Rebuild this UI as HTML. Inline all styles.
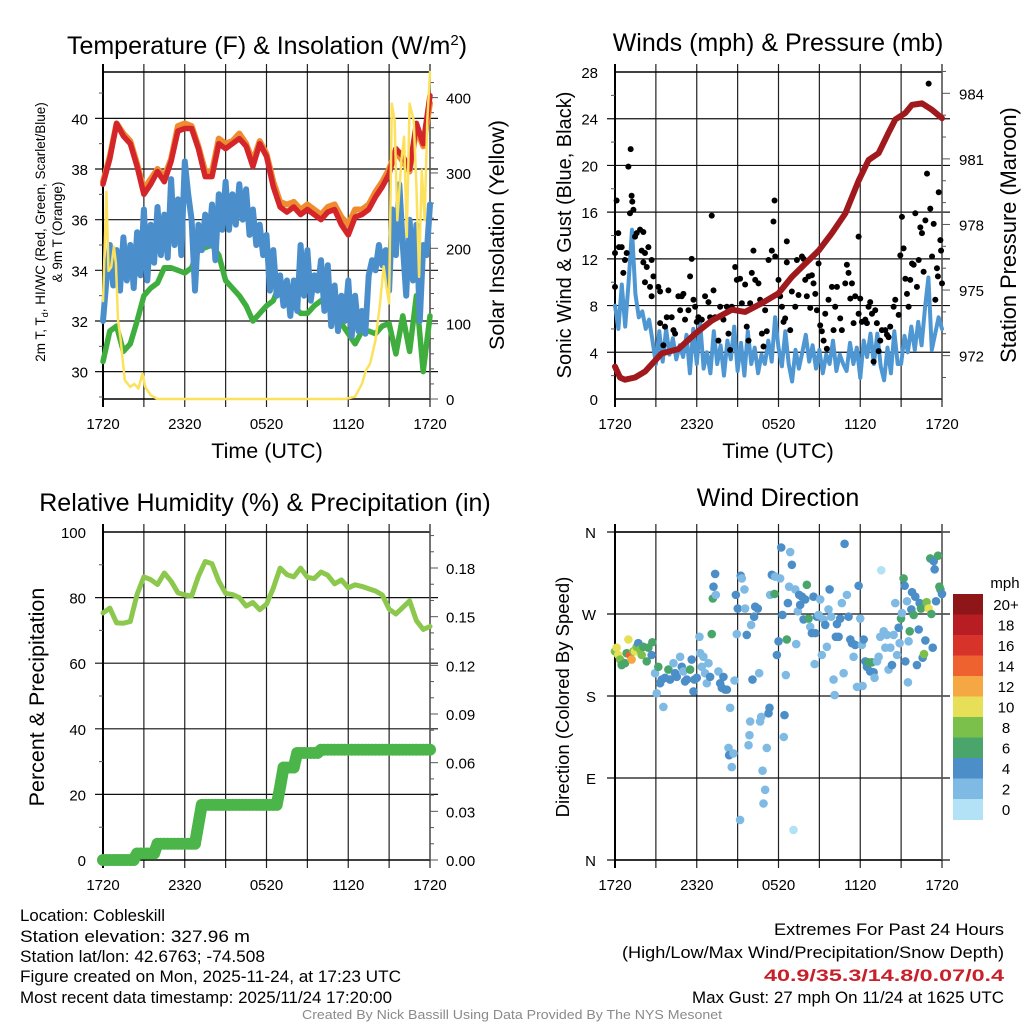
<!DOCTYPE html>
<html><head><meta charset="utf-8"><style>
html,body{margin:0;padding:0;background:#fff;}
svg{display:block;font-family:"Liberation Sans",sans-serif;}
</style></head><body>
<svg id="fig" width="1024" height="1024" viewBox="0 0 1024 1024" xmlns="http://www.w3.org/2000/svg">
<rect width="1024" height="1024" fill="#fff"/>
<g id="g1"></g>
<g id="g2"></g>
<g id="g3"></g>
<g id="g4"></g>
<g id="foot">
<text x="20" y="921" font-size="17" textLength="145" lengthAdjust="spacingAndGlyphs">Location: Cobleskill</text>
<text x="20" y="942" font-size="17" textLength="230" lengthAdjust="spacingAndGlyphs">Station elevation: 327.96 m</text>
<text x="20" y="962" font-size="17" textLength="245" lengthAdjust="spacingAndGlyphs">Station lat/lon: 42.6763; -74.508</text>
<text x="20" y="982" font-size="17" textLength="381" lengthAdjust="spacingAndGlyphs">Figure created on Mon, 2025-11-24, at 17:23 UTC</text>
<text x="20" y="1003" font-size="17" textLength="372" lengthAdjust="spacingAndGlyphs">Most recent data timestamp: 2025/11/24 17:20:00</text>
<text x="1004" y="935" font-size="17" text-anchor="end" textLength="230" lengthAdjust="spacingAndGlyphs">Extremes For Past 24 Hours</text>
<text x="1004" y="958" font-size="17" text-anchor="end" textLength="382" lengthAdjust="spacingAndGlyphs">(High/Low/Max Wind/Precipitation/Snow Depth)</text>
<text x="1004" y="981" font-size="17" font-weight="bold" fill="#c8202a" text-anchor="end" textLength="240" lengthAdjust="spacingAndGlyphs">40.9/35.3/14.8/0.07/0.4</text>
<text x="1004" y="1003" font-size="17" text-anchor="end" textLength="312" lengthAdjust="spacingAndGlyphs">Max Gust: 27 mph On 11/24 at 1625 UTC</text>
<text x="512" y="1019" font-size="13" fill="#8a8a8a" text-anchor="middle" textLength="420" lengthAdjust="spacingAndGlyphs">Created By Nick Bassill Using Data Provided By The NYS Mesonet</text>
</g>
</svg>
<script>
// ---------- DATA ----------
const timeLabels = ["1720","2320","0520","1120","1720"];
const tempT = [37.4,38.4,39.8,39.3,39.0,38.1,37.0,37.4,37.9,37.5,38.3,39.5,39.6,39.6,38.8,37.7,37.7,39.0,38.8,39.0,39.2,38.9,38.1,39.0,38.5,37.3,36.5,36.3,36.5,36.2,36.4,36.2,36.0,36.3,36.4,35.8,35.4,36.1,36.2,36.4,36.9,37.3,37.8,38.8,38.5,38.0,39.8,39.0,40.9];
const temp9m = [37.5,38.5,39.8,39.4,39.1,38.2,37.2,37.6,38.0,37.7,38.4,39.7,39.8,39.7,38.9,37.9,37.9,39.2,39.0,39.1,39.4,39.0,38.3,39.1,38.6,37.5,36.7,36.6,36.7,36.4,36.6,36.4,36.2,36.5,36.6,36.1,35.8,36.4,36.4,36.6,37.1,37.5,38.0,38.7,38.3,37.9,39.6,38.9,40.6];
const dewT = [30.4,31.6,31.8,30.8,31.1,32.0,33.0,33.3,33.5,34.1,34.1,34.0,33.9,34.1,34.8,34.9,35.0,34.6,33.6,33.3,33.0,32.6,32.0,32.3,32.6,32.8,33.5,33.1,32.6,32.3,32.3,32.6,32.8,32.7,32.4,31.9,31.5,31.1,31.6,31.6,31.5,31.8,31.9,30.7,32.2,30.8,33.0,30.0,32.2];
const windChill = [32.0,33.6,35.0,33.4, 34.8,33.2,35.3,33.6, 35.0,33.3,35.5,33.8, 36.4,33.6,35.8,34.3, 36.5,34.6,36.2,34.5, 37.6,35.0,36.8,34.6, 38.3,37.0,36.0,33.2, 35.8,34.8,36.2,35.0, 36.6,34.4,37.0,35.6, 37.5,35.6,37.0,35.8, 37.4,36.0,37.2,35.4, 36.4,35.0,35.8,34.6, 35.4,33.2,34.8,33.0, 33.8,32.6,33.6,32.2, 33.6,32.4,35.0,33.0, 34.8,32.8,33.8,33.2, 34.4,32.4,34.2,31.8, 33.4,31.6,33.0,32.0, 33.6,31.4,33.0,31.6, 32.4,31.5,33.8,34.4, 34.0,35.0,34.2,34.8, 33.2,36.4,34.6,37.4, 35.0,33.0,36.0,33.6, 35.8,32.0,35.0,34.6, 36.6];
const solarHours = [0,0.25,0.4,0.6,0.8,0.95,1.1,1.3,1.6,2.0,2.3,2.6,2.9,3.1,3.5,4.0,17.8,18.5,19.0,19.3,19.6,20.0,20.3,20.6,20.8,21.0,21.2,21.4,21.6,21.9,22.1,22.3,22.5,22.8,23.0,23.2,23.4,23.6,23.8,24];
const solarVals = [130,275,170,175,202,180,105,78,25,16,20,14,34,16,5,0,0,3,20,38,47,78,122,176,149,127,392,370,237,317,348,215,392,370,282,162,304,237,370,434];
const windSpd = [8.0,6.0,9.8,6.2, 10.0,14.5,9.0,7.0, 7.5,6.0,6.8,5.0, 3.0,5.8,3.2,6.0, 3.8,5.2,3.4,4.6, 3.6,5.5,2.2,6.0, 3.0,6.5,2.6,4.0, 2.2,5.8,3.0,4.6, 2.0,5.0,3.4,6.2, 2.4,4.8,2.0,5.8, 3.0,4.4,2.2,3.8, 3.0,5.0,3.2,7.0, 4.4,2.8,5.8,3.0, 1.5,4.2,2.6,4.0, 5.5,3.2,4.6,2.6, 4.2,2.2,3.8,3.0, 5.0,2.4,3.8,3.0, 2.4,4.8,3.0,4.4, 1.8,5.0,3.6,5.6, 3.0,5.6,2.8,1.6, 4.4,2.2,5.8,3.0, 3.0,5.4,4.0,6.2, 4.2,6.6,4.6,7.8, 10.4,4.2,5.6,7.0, 6.0];
const presHours = [0,0.37,0.73,1.47,2.2,3.43,4.65,5.88,7.1,8.57,9.55,10.78,12,12.98,13.96,14.94,15.92,16.9,17.88,18.61,19.35,20.08,20.57,21.31,21.8,22.53,23.27,24];
const presVals = [971.5,971.0,970.9,971.0,971.27,972.1,972.3,973.0,973.6,974.1,974.0,974.4,974.85,975.6,976.2,976.8,977.6,978.5,980.0,980.95,981.26,982.2,982.8,983.1,983.47,983.54,983.24,982.86];
const gustHours = [0,0.12,0.24,0.29,0.49,0,0.61,0.73,0.86,0.98,1.15,1.22,1.27,1.35,1.10,1.47,1.59,1.84,2.08,1.96,2.20,2.08,2.33,2.45,2.20,2.57,2.69,2.82,2.69,3.18,3.31,3.31,3.67,3.55,3.92,3.80,4.16,4.29,4.41,4.65,4.78,4.90,5.02,5.14,5.39,5.51,5.63,5.76,5.88,6.00,6.12,6.37,6.61,6.86,6.98,7.10,7.23,7.35,7.59,7.72,7.96,8.21,8.33,8.45,8.57,8.82,8.94,9.18,9.31,9.55,9.67,9.80,9.92,10.04,10.16,10.29,10.53,10.65,10.78,10.90,11.02,11.14,11.27,11.51,11.63,11.71,11.76,12.00,12.12,12.25,12.37,12.49,12.61,12.61,12.86,12.98,13.23,13.35,13.47,13.72,13.84,13.96,14.08,14.21,14.33,14.45,14.57,14.70,14.82,14.94,15.06,15.18,15.31,15.43,15.55,15.67,15.92,16.04,16.16,16.29,16.53,16.65,16.90,17.02,17.14,17.27,17.39,17.51,17.63,17.88,17.88,18.00,18.12,18.37,18.49,18.61,18.73,18.86,18.98,19.10,19.22,19.35,19.47,19.59,19.84,19.96,20.08,20.20,20.45,20.57,20.82,20.94,21.06,21.18,21.31,21.43,21.55,21.67,21.80,21.92,22.04,22.16,22.29,22.41,22.53,22.65,22.78,22.90,23.02,23.14,23.27,23.39,23.51,23.63,23.70,23.76,23.88,23.93,24.0];
const gustVals = [12.5,17,14.2,13,13,9.6,10.8,11.9,12.5,19.9,21.4,17.4,16.9,16.2,15.9,13.9,14.2,14.5,14.3,12.7,12.5,11.7,11.3,13.0,10,9.6,11.9,10.5,8.8,9.6,9.2,6.5,6.2,4.6,9.3,7.0,7.0,5.9,5.6,8.8,7.6,8.8,9.0,6.8,7.6,10.5,12.0,8.5,7.9,6.6,7.0,6.8,8.8,8.3,7.0,15.7,9.3,7.0,5.0,7.9,6.8,7.9,5.6,4.2,7.9,11.3,10.2,10.3,8.2,9.8,6.2,5.0,8.2,10.8,12.7,10.2,9.9,8.5,5.6,4.5,7.6,5.8,11.9,12.7,15.2,17.0,12.2,10.2,8.8,7.9,6.6,6.9,13.5,11.7,5.9,9.2,7.9,11.9,8.9,12.2,12.0,10.2,8.8,10.5,7.8,10.6,9.9,9.0,7.6,11.6,6.3,5.8,5.0,7.3,4.3,8.5,9.6,5.9,7.9,9.6,6.9,5.9,9.9,11.5,10.8,8.6,9.9,6.5,8.8,13.9,7.3,8.6,6.6,6.8,6.5,7.9,8.3,7.3,3.2,7.6,6.5,4.1,5.0,5.9,5.9,5.5,5.3,6.2,7.9,8.5,7.2,12.3,15.6,12.9,10.3,9.0,7.9,10.2,11.6,11.5,15.9,9.6,11.9,14.7,14.2,10.9,15.3,19.3,27.0,16.3,12.2,15.0,8.5,11.2,10.5,17.7,13.6,12.7,9.9];
const rhVals = [75.3,76.8,72.3,72.2,72.7,81.0,86.3,85.5,84.0,87.5,85.0,81.5,80.8,80.5,86.5,91.0,90.3,85.0,81.3,80.9,80.0,77.4,78.5,76.3,78.0,82.9,89.0,87.0,86.3,89.0,86.2,85.8,87.8,86.8,84.2,85.4,83.0,83.9,83.4,82.7,82.0,80.8,76.5,75.0,77.0,79.0,73.0,70.3,71.2];
const precipVals = [0,0,0,0,0,0,0,0,0,0, 0.004,0.004,0.004,0.004,0.004,0.004, 0.010,0.010,0.010,0.010,0.010,0.010,0.010,0.010,0.010,0.010,0.010,0.010, 0.022, 0.034,0.034,0.034,0.034,0.034,0.034,0.034,0.034,0.034,0.034,0.034,0.034,0.034,0.034,0.034,0.034,0.034,0.034,0.034,0.034,0.034,0.034,0.034, 0.045, 0.057,0.057,0.057,0.057, 0.066,0.066,0.066,0.066,0.066,0.066,0.066, 0.068,0.068,0.068,0.068,0.068,0.068,0.068,0.068,0.068,0.068,0.068,0.068,0.068,0.068,0.068,0.068,0.068,0.068,0.068,0.068,0.068,0.068,0.068,0.068,0.068,0.068,0.068,0.068,0.068,0.068,0.068,0.068,0.068];
const dirHours = [0,0.12,0.24,0.37,0.49,0.73,0.86,0.98,1.10,1.22,1.35,1.47,1.59,1.71,1.84,1.96,2.08,2.33,2.45,2.69,2.74,2.94,3.18,3.06,3.31,3.55,3.43,3.67,3.92,4.04,4.29,4.41,4.53,4.78,4.90,5.02,5.14,5.27,5.51,5.63,5.76,5.83,6.00,6.20,6.25,6.37,6.49,6.61,6.74,6.86,6.98,7.10,7.18,7.23,7.35,7.40,7.59,7.72,7.84,7.96,8.08,8.21,8.33,8.38,8.45,8.57,8.69,8.77,8.87,8.94,9.01,9.18,9.23,9.31,9.50,9.55,9.67,9.80,9.87,9.92,9.99,10.09,10.21,10.29,10.48,10.58,10.65,10.73,10.83,10.90,11.02,11.14,11.27,11.34,11.39,11.51,11.63,11.71,11.76,11.88,12.00,12.12,12.20,12.29,12.39,12.44,12.54,12.61,12.69,12.78,12.86,12.98,13.10,13.23,13.30,13.42,13.52,13.59,13.72,13.84,13.96,14.08,14.21,14.33,14.45,14.57,14.65,14.70,14.82,14.94,15.06,15.18,15.31,15.43,15.55,15.67,15.75,15.87,16.04,16.12,16.21,16.29,16.41,16.53,16.65,16.78,16.85,17.02,17.14,17.27,17.39,17.51,17.63,17.76,17.88,18.00,18.12,18.17,18.25,18.37,18.49,18.61,18.73,18.86,18.98,19.05,19.23,19.35,19.47,19.54,19.72,19.84,19.96,20.08,20.21,20.33,20.45,20.57,20.70,20.82,20.89,20.99,21.06,21.18,21.26,21.31,21.43,21.50,21.55,21.63,21.75,21.80,21.92,22.04,22.16,22.29,22.36,22.46,22.58,22.68,22.78,22.87,23.02,23.14,23.22,23.32,23.39,23.46,23.56,23.71,23.81,23.88,24.0];
const dirDeg = [229,233,225,220,214,216,227,242,225,220,229,229,234,238,231,225,234,218,233,225,239,205,212,183,194,168,198,200,209,198,216,205,201,223,212,207,196,198,209,220,185,198,200,245,227,212,223,205,194,216,201,248,287,300,314,291,207,194,189,201,187,187,123,115,167,102,117,197,291,248,276,44,312,309,297,276,247,126,137,152,258,198,267,278,276,205,152,157,98,62,77,123,161,167,291,313,312,292,311,225,240,309,343,269,135,159,203,242,282,300,338,324,33,297,237,273,291,280,289,264,286,302,265,256,249,289,215,249,267,269,286,225,264,258,234,275,297,267,198,181,245,259,245,265,282,205,347,291,267,242,238,223,236,190,301,265,236,191,242,218,212,217,207,217,206,200,218,223,245,318,251,233,247,209,233,214,247,282,225,255,238,265,271,309,301,218,284,195,240,251,275,294,269,289,214,253,282,276,222,226,241,283,276,331,270,233,328,319,284,334,300,297,292];
const dirSpd = [9,11,11,9,7,7,7,11,15,13,9,11,9,5,9,9,7,7,7,5,7,3,7,3,5,3,5,5,7,5,3,5,5,3,5,3,5,5,7,5,5,5,5,3,3,3,3,3,3,3,5,7,7,5,5,3,3,5,5,5,5,5,3,5,3,3,3,3,5,3,5,3,5,3,3,3,5,3,3,3,3,5,5,5,5,3,3,3,3,3,3,3,5,5,3,5,5,7,3,5,5,3,5,5,3,5,3,7,5,3,3,5,1,3,3,3,5,5,5,5,5,7,7,3,5,5,3,5,5,3,3,3,3,5,3,3,5,3,3,3,5,5,5,5,3,3,5,3,5,5,5,3,5,3,5,3,3,3,5,5,5,7,5,7,5,3,3,3,3,1,3,3,3,3,3,5,3,3,3,5,3,7,3,7,5,5,3,3,3,7,5,5,7,5,5,5,5,7,5,9,5,9,11,7,7,5,5,5,5,7,7,7,5];
const speedBins = ["0","2","4","6","8","10","12","14","16","18","20+"];
const speedColors = ["#b3e1f6","#7fbae5","#4b8ec8","#4aa56b","#7bc04b","#e7df58","#f5a744","#ee6230","#d7332b","#b81d24","#8e1619"];

// ---------- HELPERS ----------
const NS = "http://www.w3.org/2000/svg";
function mk(parent, tag, attrs, text) {
  const e = document.createElementNS(NS, tag);
  for (const k in attrs) e.setAttribute(k, attrs[k]);
  if (text !== undefined) e.textContent = text;
  parent.appendChild(e);
  return e;
}
const X0L = 103, X1L = 430, X0R = 615, X1R = 942;
function xf(x0, x1) { return h => x0 + h / 24 * (x1 - x0); }
function yf(top, bot, vmin, vmax) { return v => bot - (v - vmin) / (vmax - vmin) * (bot - top); }

function frame(g, x0, x1, top, bot, hGrid, yMap) {
  for (let h = 0; h <= 24; h += 3) {
    const x = x0 + h / 24 * (x1 - x0);
    const l = mk(g, "line", {x1: x, x2: x, y1: top - 8, y2: bot + 8, stroke: (h === 0) ? "#000" : "#222", "stroke-width": (h === 0) ? 2 : 1.2});
    
    
  }
  hGrid.forEach(v => {
    const y = yMap(v);
    const l = mk(g, "line", {x1: x0 - 8, x2: x1 + 8, y1: y, y2: y, stroke: "#111", "stroke-width": 1.2});
    
    
  });
  const t = mk(g, "line", {x1: x0, x2: x1, y1: top, y2: top, stroke: "#000", "stroke-width": 1.5});
  
  
  const b = mk(g, "line", {x1: x0, x2: x1, y1: bot, y2: bot, stroke: "#000", "stroke-width": 1.5});
  
  
  const r = mk(g, "line", {x1: x1, x2: x1, y1: top - 8, y2: bot, stroke: "#555", "stroke-width": 1.5});
  
  
  const l = mk(g, "line", {x1: x0, x2: x0, y1: top - 8, y2: bot + 8, stroke: "#000", "stroke-width": 2});
  
  
  timeLabels.forEach((s, i) => {
    const tx = mk(g, "text", {x: x0 + i * 6 / 24 * (x1 - x0), y: bot + 30, "font-size": 15, "text-anchor": "middle"}, s);
    
    
  });
}
function minorTicks(g, x, ys, len) {
  ys.forEach(y => {
    const l = mk(g, "line", {x1: x, x2: x + len, y1: y, y2: y, stroke: "#555", "stroke-width": 1});
    
    
  });
}
function poly(g, xs, ys, color, w, name) {
  let d = "";
  for (let i = 0; i < xs.length; i++) d += (i ? "L" : "M") + xs[i].toFixed(1) + "," + ys[i].toFixed(1);
  const p = mk(g, "path", {d: d, fill: "none", stroke: color, "stroke-width": w, "stroke-linejoin": "round", "stroke-linecap": "round"});
  
  
  return p;
}
function label(g, x, y, s, size, anchor, name, rot) {
  const t = mk(g, "text", {x: x, y: y, "font-size": size, "text-anchor": anchor || "middle"}, s);
  if (rot) t.setAttribute("transform", "rotate(-90 " + x + " " + y + ")");
  
  
  return t;
}

// ---------- PANEL 1 ----------
(function () {
  const g = document.getElementById("g1");
  const top = 72, bot = 399;
  const X = xf(X0L, X1L), Y = yf(top, bot, 28.92, 41.83), YS = yf(top, bot, 0, 434);
  frame(g, X0L, X1L, top, bot, [30, 32, 34, 36, 38, 40], Y);
  [29, 31, 33, 35, 37, 39, 41].forEach(v => minorTicks(g, X0L - 4, [Y(v)], 4));
  [30, 32, 34, 36, 38, 40].forEach(v => label(g, 88, Y(v) + 6, String(v), 15, "end", "y-tick-label"));
  for (let v = 20; v <= 420; v += 20) {
    if (v % 100) minorTicks(g, X1L, [YS(v)], 4);
    else minorTicks(g, X1L, [YS(v)], 8);
  }
  minorTicks(g, X1L, [YS(0)], 8);
  [0, 100, 200, 300, 400].forEach(v => label(g, 446, YS(v) + 6, String(v), 15, "start", "y2-tick-label"));
  const t = label(g, 267, 54, "Temperature (F) & Insolation (W/m", 25, "middle", "panel-title");
  mk(t, "tspan", {dy: -9, "font-size": 15}, "2");
  mk(t, "tspan", {dy: 9}, ")");
  label(g, 267, 458, "Time (UTC)", 21.5, "middle", "x-axis-title");
  const yt = mk(g, "text", {x: 0, y: 0, "font-size": 13.5, "text-anchor": "middle", transform: "translate(45,232) rotate(-90)"});
  
  
  mk(yt, "tspan", {x: 0, y: 0}, "2m T, T");
  mk(yt, "tspan", {"font-size": 9, dy: 3}, "d");
  mk(yt, "tspan", {dy: -3}, ", HI/WC (Red, Green, Scarlet/Blue)");
  mk(yt, "tspan", {x: 0, y: 17}, "& 9m T (Orange)");
  label(g, 504, 235, "Solar Insolation (Yellow)", 21.5, "middle", "y2-axis-title", true);
  const h05 = a => a.map((_, i) => X(i * 0.5));
  const h025 = a => a.map((_, i) => X(i * 0.25));
  poly(g, h05(dewT), dewT.map(Y), "#40ae3f", 5.5, "dewpoint-line");
  poly(g, h025(windChill), windChill.map(Y), "#4a8fcc", 6, "wind-chill-line");
  poly(g, h05(temp9m), temp9m.map(Y), "#f08c30", 6, "temp-9m-line");
  poly(g, h05(tempT), tempT.map(Y), "#d4262a", 5.5, "temp-2m-line");
  poly(g, solarHours.map(X), solarVals.map(YS), "#fce25c", 2.5, "solar-line");
})();

// ---------- PANEL 2 ----------
(function () {
  const g = document.getElementById("g2");
  const top = 72, bot = 399;
  const X = xf(X0R, X1R), Y = yf(top, bot, 0, 28);
  const YP = p => 93.3 + (984 - p) * 21.86;
  frame(g, X0R, X1R, top, bot, [4, 8, 12, 16, 20, 24], Y);
  for (let v = 2; v < 28; v += 4) minorTicks(g, X0R - 4, [Y(v)], 4);
  for (let v = 0; v <= 28; v += 4) label(g, 598, Y(v) + 6, String(v), 15, "end", "y-tick-label");
  for (let p = 971; p <= 985; p++) minorTicks(g, X1R, [YP(p)], (p % 3 === 0) ? 8 : 4);
  [972, 975, 978, 981, 984].forEach(p => label(g, 959, YP(p) + 6, String(p), 15, "start", "y2-tick-label"));
  label(g, 778, 51, "Winds (mph) & Pressure (mb)", 25, "middle", "panel-title");
  label(g, 778, 458, "Time (UTC)", 21.5, "middle", "x-axis-title");
  label(g, 571, 235, "Sonic Wind & Gust (Blue, Black)", 20, "middle", "y-axis-title", true);
  label(g, 1016, 235, "Station Pressure (Maroon)", 21.8, "middle", "y2-axis-title", true);
  poly(g, windSpd.map((_, i) => X(i * 0.25)), windSpd.map(Y), "#4e97d3", 4, "wind-speed-line");
  const n = Math.min(gustHours.length, gustVals.length);
  for (let i = 0; i < n; i++) {
    const c = mk(g, "circle", {cx: X(gustHours[i]), cy: Y(gustVals[i]), r: 3, fill: "#000"});
    
    
  }
  poly(g, presHours.map(X), presVals.map(YP), "#a01a1d", 6, "pressure-line");
})();

// ---------- PANEL 3 ----------
(function () {
  const g = document.getElementById("g3");
  const top = 532, bot = 860;
  const X = xf(X0L, X1L), Y = yf(top, bot, 0, 100), YP = yf(top, bot, 0, 0.2022);
  frame(g, X0L, X1L, top, bot, [20, 40, 60, 80], Y);
  [10, 30, 50, 70, 90].forEach(v => minorTicks(g, X0L - 4, [Y(v)], 4));
  for (let v = 0; v <= 100; v += 20) label(g, 86, Y(v) + 6, String(v), 15, "end", "y-tick-label");
  for (let k = 0; k <= 20; k++) minorTicks(g, X1L, [YP(k * 0.01)], (k % 3 === 0) ? 8 : 4);
  for (let k = 0; k <= 6; k++) label(g, 446, YP(k * 0.03) + 6, (k * 0.03).toFixed(2), 15, "start", "y2-tick-label");
  label(g, 265, 511, "Relative Humidity (%) & Precipitation (in)", 25, "middle", "panel-title");
  label(g, 44, 697, "Percent & Precipitation", 21.5, "middle", "y-axis-title", true);
  poly(g, rhVals.map((_, i) => X(i * 0.5)), rhVals.map(Y), "#8cc84d", 5, "humidity-line");
  precipVals.forEach((v, i) => {
    if (i > 0 && precipVals[i - 1] !== v) {
      // fill the step between consecutive observations
      const xa = X((i - 1) * 0.25), xb = X(i * 0.25), ya = YP(precipVals[i - 1]), yb = YP(v);
      const steps = Math.ceil(Math.abs(yb - ya) / 3);
      for (let s = 1; s < steps; s++) {
        const c = mk(g, "circle", {cx: xa + (xb - xa) * s / steps, cy: ya + (yb - ya) * s / steps, r: 6, fill: "#4bb54a"});
        
        
      }
    }
    const c = mk(g, "circle", {cx: X(i * 0.25), cy: YP(v), r: 6, fill: "#4bb54a"});
    
    
  });
})();

// ---------- PANEL 4 ----------
(function () {
  const g = document.getElementById("g4");
  const top = 532, bot = 860;
  const X = xf(X0R, X1R), Y = yf(top, bot, 0, 360);
  frame(g, X0R, X1R, top, bot, [0, 90, 180, 270, 360], Y);
  ["N", "E", "S", "W", "N"].forEach((s, i) => label(g, 596, Y(i * 90) + 6, s, 15, "end", "direction-tick-label"));
  label(g, 778, 506, "Wind Direction", 25, "middle", "panel-title");
  label(g, 569, 697, "Direction (Colored By Speed)", 18.5, "middle", "y-axis-title", true);
  const n = Math.min(dirHours.length, dirDeg.length, dirSpd.length);
  for (let i = 0; i < n; i++) {
    const bin = Math.min(10, Math.floor(dirSpd[i] / 2));
    const c = mk(g, "circle", {cx: X(dirHours[i]), cy: Y(dirDeg[i]), r: 4.3, fill: speedColors[bin]});
    
    
  }
  const cbTop = 594, cbH = 20.5;
  label(g, 1005, 588, "mph", 15, "middle", "colorbar-title");
  for (let k = 0; k < speedBins.length; k++) {
    const idx = speedBins.length - 1 - k;
    const r = mk(g, "rect", {x: 953, y: cbTop + k * cbH, width: 30, height: cbH + 0.5, fill: speedColors[idx]});
    
    
    label(g, 1006, cbTop + k * cbH + 16, speedBins[idx], 15, "middle", "colorbar-label");
  }
})();
</script>
</body></html>
